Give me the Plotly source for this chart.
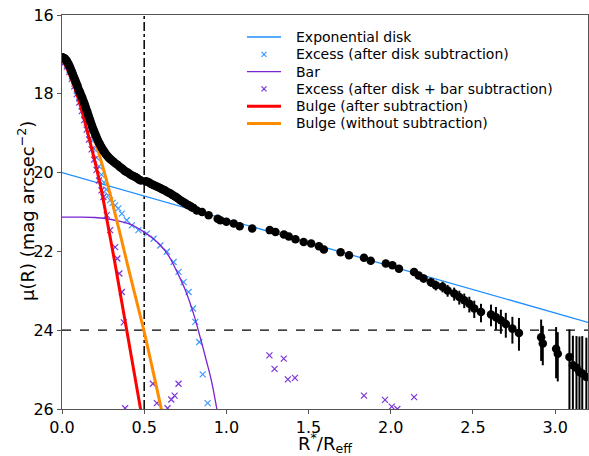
import plotly.graph_objects as go

# ---- surface-brightness profile (black points) ----
r_inner = [0.000, 0.005, 0.010, 0.015, 0.020, 0.025, 0.030, 0.035, 0.040, 0.045,
           0.050, 0.055, 0.060, 0.065, 0.070, 0.075, 0.080, 0.085, 0.090, 0.095,
           0.100, 0.105, 0.110, 0.115, 0.120, 0.125, 0.130, 0.135, 0.140, 0.145,
           0.150, 0.155, 0.160, 0.165, 0.170, 0.175, 0.180, 0.185, 0.190, 0.195,
           0.200, 0.205, 0.210, 0.215, 0.220, 0.225, 0.230, 0.235, 0.240, 0.245,
           0.250, 0.255, 0.260, 0.265, 0.270, 0.275, 0.280, 0.285, 0.290, 0.295,
           0.300, 0.310, 0.320, 0.330, 0.340, 0.350, 0.360, 0.370, 0.380, 0.390,
           0.400, 0.410, 0.420, 0.430, 0.440, 0.450, 0.460, 0.470, 0.480, 0.510,
           0.520, 0.530, 0.540, 0.550, 0.560, 0.570, 0.580, 0.590, 0.600, 0.610,
           0.620, 0.630, 0.640, 0.650, 0.660, 0.670, 0.680, 0.690, 0.700, 0.710,
           0.720, 0.730, 0.740, 0.750, 0.760, 0.770, 0.780, 0.790, 0.800, 0.820,
           0.852]
mu_inner = [17.07, 17.08, 17.09, 17.10, 17.12, 17.15, 17.17, 17.21, 17.25, 17.29,
            17.34, 17.39, 17.44, 17.49, 17.55, 17.60, 17.65, 17.71, 17.76, 17.81,
            17.87, 17.92, 17.97, 18.02, 18.07, 18.12, 18.18, 18.23, 18.29, 18.35,
            18.41, 18.47, 18.54, 18.60, 18.66, 18.72, 18.78, 18.84, 18.90, 18.95,
            19.00, 19.05, 19.10, 19.15, 19.20, 19.24, 19.28, 19.32, 19.36, 19.39,
            19.43, 19.46, 19.49, 19.52, 19.55, 19.57, 19.60, 19.62, 19.64, 19.66,
            19.68, 19.71, 19.75, 19.78, 19.81, 19.85, 19.88, 19.91, 19.95, 19.98,
            20.00, 20.03, 20.06, 20.08, 20.10, 20.12, 20.15, 20.18, 20.20, 20.22,
            20.23, 20.25, 20.28, 20.30, 20.32, 20.34, 20.36, 20.38, 20.40, 20.42,
            20.44, 20.46, 20.49, 20.51, 20.53, 20.56, 20.59, 20.61, 20.64, 20.67,
            20.70, 20.73, 20.75, 20.78, 20.81, 20.83, 20.85, 20.88, 20.90, 20.96,
            21.00]

r_outer = [0.892, 0.947, 0.963, 1.000, 1.045, 1.081, 1.157, 1.264, 1.299, 1.350,
           1.380, 1.420, 1.470, 1.516, 1.563, 1.593, 1.695, 1.746, 1.837, 1.878,
           1.970, 2.010, 2.050, 2.142, 2.170, 2.200, 2.244, 2.274, 2.315, 2.346,
           2.386, 2.417, 2.447, 2.478, 2.508, 2.549, 2.610, 2.640, 2.670, 2.700,
           2.740, 2.780, 2.915, 2.925, 3.006, 3.016, 3.087, 3.108, 3.130, 3.148,
           3.165, 3.190]
mu_outer = [21.08, 21.17, 21.21, 21.25, 21.29, 21.36, 21.42, 21.46, 21.51, 21.57,
            21.62, 21.69, 21.76, 21.80, 21.87, 21.95, 22.02, 22.10, 22.16, 22.24,
            22.31, 22.35, 22.44, 22.52, 22.61, 22.69, 22.78, 22.86, 22.90, 22.99,
            23.07, 23.16, 23.24, 23.33, 23.45, 23.54, 23.60, 23.67, 23.75, 23.84,
            23.96, 24.07, 24.18, 24.34, 24.47, 24.60, 24.68, 24.89, 24.95, 25.06,
            25.10, 25.19]
# errors toward brighter (up) and fainter (down) magnitudes
err_up_outer = [0, 0, 0, 0, 0, 0, 0, 0.01, 0.02, 0.02,
                0.03, 0.03, 0.03, 0.03, 0.04, 0.04, 0.05, 0.05, 0.05, 0.06,
                0.06, 0.07, 0.08, 0.08, 0.09, 0.10, 0.11, 0.12, 0.13, 0.14,
                0.15, 0.16, 0.17, 0.18, 0.20, 0.21, 0.25, 0.26, 0.27, 0.28,
                0.30, 0.38, 0.45, 0.45, 0.55, 0.55, 0.70, 0.75, 0.80, 0.90,
                0.95, 1.00]
err_down_outer = [0, 0, 0, 0, 0, 0, 0, 0.01, 0.02, 0.02,
                  0.03, 0.03, 0.03, 0.03, 0.04, 0.04, 0.05, 0.05, 0.06, 0.06,
                  0.07, 0.07, 0.08, 0.09, 0.10, 0.10, 0.12, 0.13, 0.14, 0.16,
                  0.18, 0.19, 0.20, 0.22, 0.24, 0.26, 0.30, 0.32, 0.34, 0.35,
                  0.38, 0.45, 0.60, 0.55, 0.75, 0.70, 1.50, 1.50, 1.50, 1.50,
                  1.50, 1.50]

# ---- exponential disk ----
disk_r = [0.0, 3.2]
disk_mu = [20.0, 23.8]

# ---- excess after disk subtraction ----
exd_r = [0.000, 0.015, 0.030, 0.045, 0.060, 0.075, 0.090, 0.105, 0.120, 0.135,
         0.150, 0.165, 0.180, 0.195, 0.210, 0.225, 0.240, 0.255, 0.270, 0.282,
         0.293, 0.308, 0.323, 0.343, 0.364, 0.394, 0.425, 0.465, 0.516, 0.557,
         0.598, 0.638, 0.679, 0.709, 0.740, 0.770, 0.797, 0.811, 0.835, 0.856,
         0.886]
exd_mu = [17.15, 17.19, 17.27, 17.40, 17.56, 17.74, 17.93, 18.12, 18.32, 18.52,
          18.73, 18.95, 19.17, 19.40, 19.62, 19.84, 20.05, 20.25, 20.43, 20.58,
          20.70, 20.77, 20.83, 20.91, 21.04, 21.21, 21.34, 21.46, 21.55, 21.68,
          21.85, 22.01, 22.27, 22.52, 22.78, 23.03, 23.45, 23.79, 24.30, 25.12,
          25.85]

# ---- bar model ----
bar_r = [0.00, 0.10, 0.20, 0.30, 0.40, 0.45, 0.50, 0.55, 0.60, 0.65,
         0.70, 0.75, 0.80, 0.84, 0.88, 0.91, 0.94, 0.97]
bar_mu = [21.13, 21.13, 21.14, 21.19, 21.29, 21.38, 21.51, 21.66, 21.85, 22.12,
          22.52, 22.98, 23.58, 24.17, 24.80, 25.30, 25.95, 26.60]

# ---- excess after disk + bar subtraction ----
exb_r = [0.000, 0.015, 0.030, 0.045, 0.060, 0.075, 0.090, 0.105, 0.120, 0.135,
         0.150, 0.165, 0.180, 0.195, 0.210, 0.225, 0.240, 0.252, 0.272, 0.293,
         0.323, 0.337, 0.349, 0.364, 0.376, 0.384, 0.553, 0.577, 0.642, 0.665,
         0.685, 0.709, 1.262, 1.293, 1.349, 1.374, 1.417, 1.837, 1.965, 2.006,
         2.040, 2.142]
exb_mu = [17.16, 17.21, 17.31, 17.45, 17.62, 17.81, 18.01, 18.22, 18.44, 18.67,
          18.91, 19.16, 19.41, 19.67, 19.93, 20.20, 20.45, 20.62, 21.08, 21.46,
          21.89, 22.18, 22.56, 23.03, 23.80, 25.98, 25.36, 25.85, 25.98, 25.76,
          25.66, 25.36, 24.64, 24.98, 24.72, 25.25, 25.21, 25.66, 25.77, 25.94,
          26.00, 25.70]

# ---- bulge models ----
bulge_r = [0.00, 0.04, 0.08, 0.12, 0.16, 0.20, 0.24, 0.28, 0.32, 0.36,
           0.40, 0.44, 0.48, 0.50]
bulge_mu = [17.12, 17.45, 17.88, 18.42, 19.05, 19.72, 20.45, 21.35, 22.25, 23.20,
            24.15, 25.10, 26.05, 26.50]

bulge_ns_r = [0.00, 0.05, 0.10, 0.15, 0.20, 0.25, 0.30, 0.35, 0.40, 0.45,
              0.50, 0.55, 0.60, 0.65]
bulge_ns_mu = [17.10, 17.42, 17.92, 18.52, 19.18, 19.88, 20.66, 21.50, 22.36, 23.20,
               24.04, 24.97, 25.92, 26.90]

# reference lines
r_mark = 0.5
mu_mark = 24.0

FONT = "DejaVu Sans"
BLUE = "#1f8fff"
BLUE_X = "#3d9bff"
PURPLE = "#7b22d3"
PURPLE_X = "#7b35d8"
RED = "#ff0000"
ORANGE = "#ff8c00"

# figure geometry (pixels), used for the hand-placed legend and titles
W, H = 589, 456
ML, MR, MT, MB = 62, 1, 15, 47
PW, PH = W - ML - MR, H - MT - MB


def px_x(px):
    return (px - ML) / PW


def px_y(py):
    return (H - MB - py) / PH


fig = go.Figure()

fig.add_trace(go.Scatter(x=disk_r, y=disk_mu, mode="lines", name="Exponential disk",
                         line=dict(color=BLUE, width=1.3)))
fig.add_trace(go.Scatter(x=exd_r, y=exd_mu, mode="markers",
                         name="Excess (after disk subtraction)",
                         marker=dict(symbol="x-thin", size=6, color=BLUE_X,
                                     line=dict(color=BLUE_X, width=1.2))))
fig.add_trace(go.Scatter(x=bar_r, y=bar_mu, mode="lines", name="Bar",
                         line=dict(color=PURPLE, width=1.3, shape="spline")))
fig.add_trace(go.Scatter(x=exb_r, y=exb_mu, mode="markers",
                         name="Excess (after disk + bar subtraction)",
                         marker=dict(symbol="x-thin", size=6, color=PURPLE_X,
                                     line=dict(color=PURPLE_X, width=1.2))))
fig.add_trace(go.Scatter(x=bulge_r, y=bulge_mu, mode="lines",
                         name="Bulge (after subtraction)",
                         line=dict(color=RED, width=3, shape="spline")))
fig.add_trace(go.Scatter(x=bulge_ns_r, y=bulge_ns_mu, mode="lines",
                         name="Bulge (without subtraction)",
                         line=dict(color=ORANGE, width=3, shape="spline")))

r_all = r_inner + r_outer
mu_all = mu_inner + mu_outer
err_up = [0.0] * len(r_inner) + err_up_outer
err_down = [0.0] * len(r_inner) + err_down_outer

fig.add_trace(go.Scatter(x=r_all, y=mu_all, mode="markers", showlegend=False,
                         marker=dict(color="black", size=8.5),
                         error_y=dict(type="data", array=err_down, arrayminus=err_up,
                                      color="black", thickness=2, width=0)))

fig.add_shape(type="line", xref="x", yref="paper", x0=r_mark, x1=r_mark, y0=0, y1=1,
              line=dict(color="black", width=1.5, dash="dashdot"), layer="below")
fig.add_shape(type="line", xref="paper", yref="y", x0=0, x1=1, y0=mu_mark, y1=mu_mark,
              line=dict(color="black", width=1.2, dash="dash"), layer="below")

# legend, drawn compactly inside the axes
legend_rows = [
    ("Exponential disk", "line", BLUE, 1.3),
    ("Excess (after disk subtraction)", "cross", BLUE_X, 1.2),
    ("Bar", "line", PURPLE, 1.3),
    ("Excess (after disk + bar subtraction)", "cross", PURPLE_X, 1.2),
    ("Bulge (after subtraction)", "line", RED, 3),
    ("Bulge (without subtraction)", "line", ORANGE, 3),
]
row0, row_step = 37.0, 17.3
line_x0, line_x1, mark_x, text_x = 247, 281, 264, 294
for i, (label, kind, color, lw) in enumerate(legend_rows):
    yc = row0 + i * row_step
    if kind == "line":
        fig.add_shape(type="line", xref="paper", yref="paper",
                      x0=px_x(line_x0), x1=px_x(line_x1), y0=px_y(yc), y1=px_y(yc),
                      line=dict(color=color, width=lw))
    else:
        s = 2.5
        for dy in (-s, s):
            fig.add_shape(type="line", xref="paper", yref="paper",
                          x0=px_x(mark_x - s), x1=px_x(mark_x + s),
                          y0=px_y(yc + dy), y1=px_y(yc - dy),
                          line=dict(color=color, width=lw))
    fig.add_annotation(text=label, xref="paper", yref="paper",
                       x=px_x(text_x), y=px_y(yc), xanchor="left", yanchor="middle",
                       showarrow=False, font=dict(family=FONT, size=14, color="black"))

# axis titles
fig.add_annotation(text="μ(R) (mag arcsec<sup>−2</sup>)", xref="paper", yref="paper",
                   x=px_x(26), y=px_y(211), xanchor="center", yanchor="middle",
                   textangle=-90, showarrow=False,
                   font=dict(family=FONT, size=18, color="black"))
fig.add_annotation(text="R<sup>*</sup>/R<sub>eff</sub>", xref="paper", yref="paper",
                   x=px_x(325), y=px_y(443), xanchor="center", yanchor="middle",
                   showarrow=False, font=dict(family=FONT, size=18, color="black"))

axis_common = dict(showgrid=False, zeroline=False, showline=True, mirror=True,
                   linecolor="#555555", linewidth=1, ticks="outside", ticklen=4,
                   tickcolor="#555555", automargin=False,
                   tickfont=dict(family=FONT, size=16, color="black"))

fig.update_xaxes(range=[0, 3.2], tickvals=[0, 0.5, 1.0, 1.5, 2.0, 2.5, 3.0],
                 ticktext=["0.0", "0.5", "1.0", "1.5", "2.0", "2.5", "3.0"],
                 **axis_common)
fig.update_yaxes(range=[26, 16], tickvals=[16, 18, 20, 22, 24, 26], **axis_common)

fig.update_layout(
    width=W, height=H,
    margin=dict(l=ML, r=MR, t=MT, b=MB),
    paper_bgcolor="white", plot_bgcolor="white",
    font=dict(family=FONT, color="black"),
    showlegend=False,
)

fig.write_html("out.html")
